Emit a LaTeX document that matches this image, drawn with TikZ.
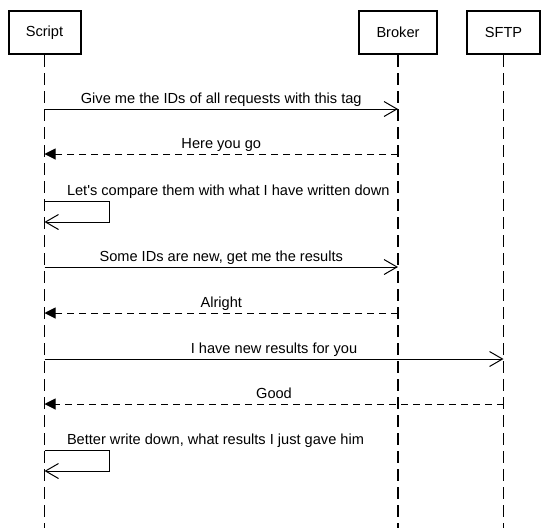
\documentclass[tikz,border=0pt]{standalone}
\usepackage{fontspec}
\setmainfont{Liberation Sans}
\usepackage{xcolor}
\usepackage{tikz}
\usetikzlibrary{arrows.meta}

\begin{document}
\begin{tikzpicture}[x=1pt, y=-1pt,
%
    font=\fontsize{14.6}{17}\selectfont,
    actor/.style={rectangle,draw,line width=2pt,minimum height=43pt,inner sep=0pt},
    life/.style={line width=1.1pt,dash pattern=on 12pt off 6pt},
     Arr/.style={line width=1pt,-{Straight Barb[length=13pt,width=15pt,line width=1pt]}},
     Ret/.style={line width=1pt,dash pattern=on 7pt off 5pt,-{Triangle[length=11pt,width=11pt]}},
     msg/.style={anchor=base,yshift=6pt,inner sep=0pt},
     selfmsg/.style={anchor=base west,xshift=22pt,yshift=6pt,inner sep=0pt},
                        ]
    \useasboundingbox (0,0) rectangle (548,528);
    \node[actor,minimum width=72pt] (script_node) at (44.5,32.5) {Script};
    \node[actor,minimum width=78pt] (broker_node) at (398,32.5) {Broker};
    \node[actor,minimum width=73pt] (sftp_node)   at (503.5,32.5) {SFTP};
    \coordinate (script_end) at (44.5,528);
    \coordinate (broker_end) at (398,528);
    \coordinate (sftp_end)   at (503.5,528);
    \draw[life] (script_node) -- (script_end);
    \draw[life] (broker_node) -- (broker_end);
    \draw[life] (sftp_node)   -- (sftp_end);

    % points on the lifelines
    \coordinate (s1) at (44.5,109);  \coordinate (b1) at (398,109);
    \coordinate (s2) at (44.5,154);  \coordinate (b2) at (398,154);
    \coordinate (l1a) at (44.5,201); \coordinate (l1b) at (44.5,222);
    \coordinate (s3) at (44.5,267);  \coordinate (b3) at (398,267);
    \coordinate (s4) at (44.5,313);  \coordinate (b4) at (398,313);
    \coordinate (s5) at (44.5,359);  \coordinate (f5) at (503.5,359);
    \coordinate (s6) at (44.5,404);  \coordinate (f6) at (503.5,404);
    \coordinate (l2a) at (44.5,450); \coordinate (l2b) at (44.5,471);

    \draw[Arr] (s1) -- (b1) node[msg,midway] {Give me the IDs of all requests with this tag};
    \draw[Ret] (b2) -- (s2) node[msg,midway] {Here you go};
    \draw[Arr] (l1a) node[selfmsg] {Let\textquotesingle s compare them with what I have written down}
        -- ++(65,0) -- ++(0,21) -- (l1b);
    \draw[Arr] (s3) -- (b3) node[msg,midway] {Some IDs are new, get me the results};
    \draw[Ret] (b4) -- (s4) node[msg,midway] {Alright};
    \draw[Arr] (s5) -- (f5) node[msg,midway] {I have new results for you};
    \draw[Ret] (f6) -- (s6) node[msg,midway] {Good};
    \draw[Arr] (l2a) node[selfmsg] {Better write down, what results I just gave him}
        -- ++(65,0) -- ++(0,21) -- (l2b);

\end{tikzpicture}
\end{document}
